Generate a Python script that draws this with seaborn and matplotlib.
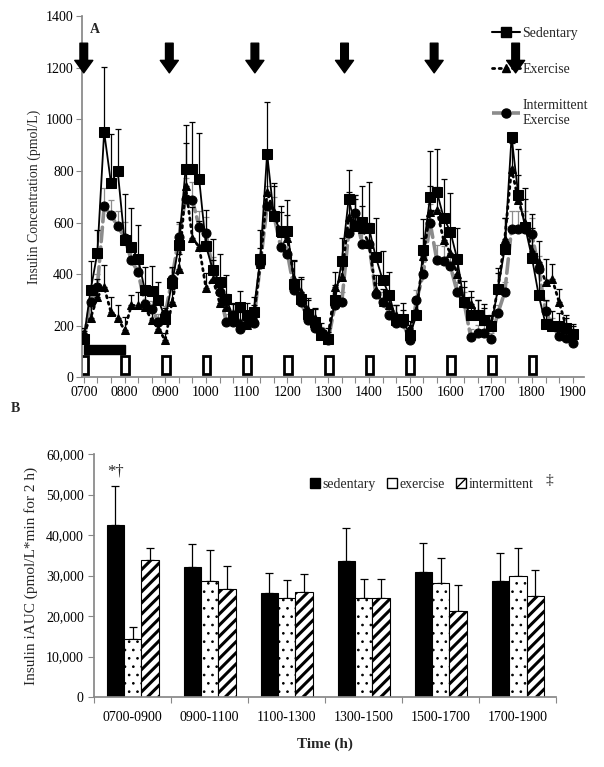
import numpy as np
import pandas as pd
import matplotlib
matplotlib.use("Agg")
import matplotlib.pyplot as plt
from matplotlib.patches import Rectangle, Patch
from matplotlib.lines import Line2D
from matplotlib.ticker import FuncFormatter, MultipleLocator
import seaborn as sns

# ---- Panel A: insulin sampled every 10 min, 0700-1900 ----
sample_min = list(range(0, 721, 10))

sedentary = [150, 337, 482, 951, 754, 799, 531, 505, 460, 337, 333, 299, 228, 366,
             512, 809, 809, 767, 508, 418, 370, 305, 234, 273, 240, 253,
             460, 867, 624, 566, 566, 363, 302, 247, 214, 163, 150,
             299, 450, 690, 587, 602, 579, 467, 379, 318, 221, 228, 163,
             240, 495, 699, 719, 619, 564, 458, 292, 240, 240, 224, 199,
             344, 499, 932, 706, 583, 464, 318, 208, 199, 199, 190, 169]
sedentary_err = [30, 115, 90, 250, 190, 165, 180, 150, 130, 90, 100, 70, 40, 60,
                 90, 170, 180, 180, 140, 120, 110, 90, 50, 60, 50, 60,
                 110, 200, 130, 100, 120, 90, 80, 60, 50, 30, 25,
                 60, 90, 115, 120, 140, 180, 150, 110, 90, 60, 60, 40,
                 60, 120, 180, 165, 150, 150, 120, 80, 70, 60, 60, 40,
                 80, 120, 10, 180, 150, 170, 110, 90, 60, 50, 40, 30]

exercise = [170, 230, 311, 350, 253, 231, 182, 279, 279, 273, 221, 189, 143, 292,
            420, 740, 540, 505, 345, 383, 290, 273, 250, 215, 202, 230,
            440, 720, 640, 560, 540, 380, 330, 260, 230, 180, 160,
            350, 389, 620, 600, 576, 518, 337, 292, 280, 240, 230, 190,
            260, 470, 641, 648, 531, 482, 400, 292, 286, 250, 230, 210,
            344, 538, 809, 686, 600, 490, 447, 370, 380, 292, 200, 175]
exercise_err = [20, 60, 70, 84, 60, 50, 50, 40, 50, 60, 40, 40, 30, 50,
                60, 170, 120, 100, 60, 70, 60, 50, 40, 40, 40, 50,
                60, 150, 100, 80, 90, 70, 60, 40, 40, 30, 30,
                60, 70, 100, 90, 90, 80, 60, 50, 40, 40, 30, 30,
                50, 70, 100, 90, 90, 80, 70, 60, 50, 50, 40, 30,
                60, 80, 100, 100, 90, 90, 80, 90, 60, 50, 40, 30]

intermittent = [150, 292, 350, 663, 628, 586, 542, 454, 408, 286, 266, 214, 247, 383,
                545, 693, 686, 583, 560, 415, 330, 214, 214, 189, 205, 210,
                440, 663, 628, 505, 480, 337, 292, 221, 193, 176, 146,
                279, 292, 560, 637, 516, 518, 325, 292, 240, 211, 211, 146,
                299, 400, 600, 454, 450, 430, 330, 290, 156, 172, 172, 150,
                250, 330, 576, 576, 576, 557, 420, 257, 200, 160, 153, 133]
intermittent_err = [20, 40, 50, 70, 60, 60, 60, 50, 40, 40, 30, 30, 30, 40,
                    50, 80, 70, 60, 60, 50, 40, 30, 30, 30, 30, 30,
                    40, 80, 70, 60, 60, 40, 40, 30, 30, 20, 20,
                    40, 40, 60, 70, 60, 60, 40, 40, 30, 30, 30, 20,
                    40, 50, 70, 60, 60, 50, 40, 40, 30, 30, 30, 20,
                    30, 40, 70, 70, 70, 60, 50, 40, 30, 30, 20, 20]

meal_hours = [7.0, 9.1, 11.2, 13.4, 15.6, 17.6]
bout_hours = [7, 8, 9, 10, 11, 12, 13, 14, 15, 16, 17, 18]
walk_start, walk_end = 7.0, 8.0
hour_labels = ["0700", "0800", "0900", "1000", "1100", "1200", "1300",
               "1400", "1500", "1600", "1700", "1800", "1900"]

# ---- Panel B: iAUC per 2 h ----
periods = ["0700-0900", "0900-1100", "1100-1300", "1300-1500", "1500-1700", "1700-1900"]
auc_sedentary = [42400, 32200, 25800, 33500, 30800, 28700]
auc_sedentary_err = [9600, 5600, 4800, 8200, 7200, 6800]
auc_exercise = [14400, 28600, 24400, 24400, 28200, 30000]
auc_exercise_err = [2900, 7800, 4400, 4700, 6200, 6800]
auc_intermittent = [33900, 26700, 25900, 24400, 21200, 24900]
auc_intermittent_err = [2900, 5600, 4400, 4700, 6600, 6600]

sns.set_theme(style="ticks")
plt.rcParams["font.family"] = ["Liberation Serif", "DejaVu Serif"]
plt.rcParams["axes.edgecolor"] = "#888888"
plt.rcParams["xtick.color"] = "#888888"
plt.rcParams["ytick.color"] = "#888888"
plt.rcParams["xtick.labelcolor"] = "black"
plt.rcParams["ytick.labelcolor"] = "black"

fig = plt.figure(figsize=(6.04, 7.67), dpi=100)
axA = fig.add_axes([0.136, 0.508, 0.831, 0.471])
axB = fig.add_axes([0.156, 0.091, 0.765, 0.317])

hours = 7 + np.array(sample_min) / 60.0

series = [
    ("Intermittent\nExercise", intermittent, intermittent_err, "#8c8c8c", (0, (4, 1.5)), "o", 2.6, "#8c8c8c"),
    ("Exercise", exercise, exercise_err, "black", (0, (0.8, 1.6)), "^", 2.0, "black"),
    ("Sedentary", sedentary, sedentary_err, "black", "-", "s", 1.3, "black"),
]
z = 3
for name, vals, err, col, ls, mk, lw, ecol in series:
    vals = np.array(vals)
    axA.errorbar(hours, vals, yerr=[np.zeros(len(vals)), np.array(err)], fmt="none",
                 ecolor=ecol, elinewidth=0.9, capsize=2.5, capthick=0.9, zorder=z)
    sns.lineplot(x=hours, y=vals, ax=axA, color=col, linestyle=ls, linewidth=lw,
                 marker=mk, markersize=6.5 if mk != "^" else 6, markerfacecolor="black",
                 markeredgecolor="black", dash_capstyle="round", zorder=z + 1)
    z += 2

for t in meal_hours:
    axA.annotate("", xy=(t, 1180), xytext=(t, 1295),
                 arrowprops=dict(arrowstyle="simple,head_length=0.9,head_width=1.3,tail_width=0.55",
                                 fc="black", ec="black", mutation_scale=10, shrinkA=0, shrinkB=0))

for h in bout_hours:
    axA.add_patch(Rectangle((h - 0.08, 12), 0.19, 72, facecolor="white",
                            edgecolor="black", linewidth=2, zorder=2))
axA.add_patch(Rectangle((walk_start, 92), walk_end - walk_start, 32,
                        facecolor="black", edgecolor="black", zorder=2))

axA.set_xlim(6.96, 19.28)
axA.set_ylim(0, 1400)
axA.set_xticks(range(7, 20))
axA.set_xticklabels(hour_labels, fontsize=10)
axA.xaxis.set_minor_locator(MultipleLocator(1 / 3))
axA.yaxis.set_major_locator(MultipleLocator(200))
axA.tick_params(axis="both", direction="out", length=4, width=0.8, labelsize=10, pad=2)
axA.tick_params(axis="x", which="minor", direction="out", length=4, width=0.8)
axA.set_xlabel("")
axA.set_ylabel("Insulin Concentration (pmol/L)", fontsize=10, labelpad=4)
sns.despine(ax=axA)
axA.text(0.016, 0.962, "A", transform=axA.transAxes, fontsize=10, fontweight="bold",
         ha="left", va="center")
fig.text(0.025, 0.468, "B", fontsize=10, fontweight="bold", ha="center", va="center")

legA = [
    Line2D([], [], color="black", lw=1.5, marker="s", markersize=6.5),
    Line2D([], [], color="black", lw=2.0, linestyle=(0, (0.8, 1.6)), marker="^", markersize=6,
           dash_capstyle="round"),
    Line2D([], [], color="#8c8c8c", lw=2.6, linestyle=(0, (4, 1.5)), marker="o",
           markersize=6.5, markerfacecolor="black", markeredgecolor="black"),
]
axA.legend(legA, ["Sedentary", "Exercise", "Intermittent\nExercise"], loc="upper left",
           bbox_to_anchor=(0.805, 0.985), frameon=False, fontsize=10, handlelength=2.0,
           handletextpad=0.2, labelspacing=1.65, borderaxespad=0)

# ---- Panel B ----
groups = ["sedentary", "exercise", "intermittent"]
df = pd.DataFrame({
    "period": periods * 3,
    "group": [g for g in groups for _ in periods],
    "auc": auc_sedentary + auc_exercise + auc_intermittent,
})
sns.barplot(data=df, x="period", y="auc", hue="group", hue_order=groups,
            palette={"sedentary": "black", "exercise": "white", "intermittent": "white"},
            edgecolor="black", linewidth=0.8, width=0.68, gap=0, errorbar=None,
            legend=False, ax=axB, zorder=2)

bar_sets = list(axB.containers)
errs = [auc_sedentary_err, auc_exercise_err, auc_intermittent_err]
vals = [auc_sedentary, auc_exercise, auc_intermittent]
hatches = [None, "..", "///"]
for k, cont in enumerate(bar_sets):
    xs = []
    for bar in cont:
        xs.append(bar.get_x() + bar.get_width() / 2)
        if hatches[k]:
            bar.set_hatch(hatches[k])
            if hasattr(bar, "set_hatch_linewidth"):
                bar.set_hatch_linewidth(0.7 if k == 1 else 2.2)
    axB.errorbar(xs, vals[k], yerr=[np.zeros(len(xs)), np.array(errs[k])], fmt="none",
                 ecolor="black", elinewidth=0.9, capsize=3, capthick=0.9, zorder=1)

sed_x0 = bar_sets[0][0].get_x() + bar_sets[0][0].get_width() / 2
axB.text(sed_x0, 53800, "*\u2020", ha="center", va="bottom", fontsize=12)

axB.set_xlim(-0.5, 5.5)
axB.set_ylim(0, 60000)
axB.yaxis.set_major_locator(MultipleLocator(10000))
axB.yaxis.set_major_formatter(FuncFormatter(lambda v, p: f"{v:,.0f}"))
axB.set_xticks(range(len(periods)))
axB.set_xticklabels(periods, fontsize=10)
axB.set_xticks(np.arange(-0.5, 6, 1), minor=True)
axB.tick_params(axis="x", which="major", length=0, pad=10, labelsize=10)
axB.tick_params(axis="x", which="minor", direction="out", length=4, width=0.8)
axB.tick_params(axis="y", direction="out", length=4, width=0.8, labelsize=10)
axB.set_xlabel("Time (h)", fontsize=11, fontweight="bold", labelpad=10)
axB.set_ylabel("Insulin iAUC (pmol/L*min for 2 h)", fontsize=11, labelpad=6)
sns.despine(ax=axB)

legB = [
    Patch(facecolor="black", edgecolor="black"),
    Patch(facecolor="white", edgecolor="black"),
    Patch(facecolor="white", edgecolor="black", hatch="///"),
]
axB.legend(legB, groups, loc="center left", bbox_to_anchor=(0.455, 0.874), ncol=3,
           frameon=False, fontsize=10, handlelength=0.7, handleheight=0.7,
           handletextpad=0.2, columnspacing=0.8, borderaxespad=0)
axB.text(0.985, 0.89, "\u2021", transform=axB.transAxes, fontsize=11, ha="center", va="center")

fig.savefig("out.png", dpi=100)
